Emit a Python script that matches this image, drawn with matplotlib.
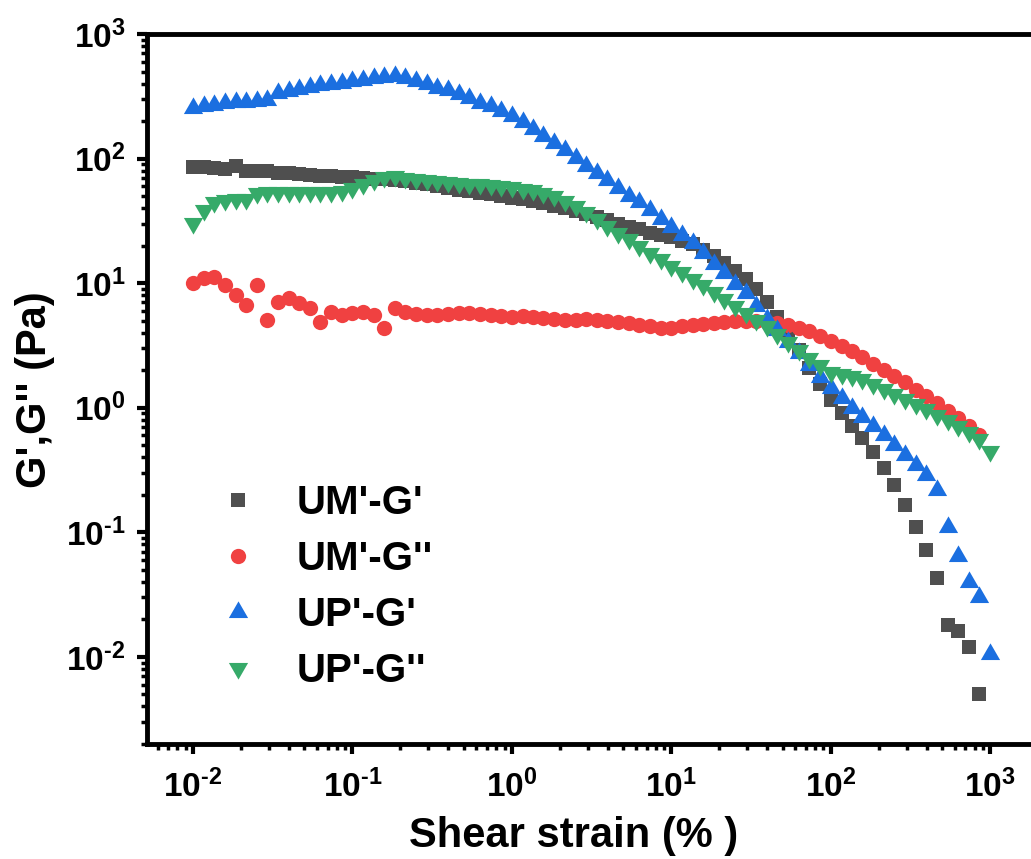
import matplotlib
matplotlib.use("Agg")
import numpy as np
import matplotlib.pyplot as plt
from matplotlib.ticker import LogLocator, NullFormatter, FuncFormatter

plt.rcParams.update({
    "font.family": "Liberation Sans",
    "font.weight": "bold",
    "mathtext.fontset": "custom",
    "mathtext.rm": "Liberation Sans:bold",
    "mathtext.bf": "Liberation Sans:bold",
    "mathtext.default": "bf",
})

# amplitude sweep, shear strain in %
strain = [0.01, 0.0117, 0.0136, 0.0158, 0.0185, 0.0215, 0.0251, 0.0293, 0.0341, 0.0398,
          0.0464, 0.0541, 0.0631, 0.0736, 0.0858, 0.1, 0.117, 0.136, 0.158, 0.185,
          0.215, 0.251, 0.293, 0.341, 0.398, 0.464, 0.541, 0.631, 0.736, 0.858,
          1.0, 1.17, 1.36, 1.58, 1.85, 2.15, 2.51, 2.93, 3.41, 3.98,
          4.64, 5.41, 6.31, 7.36, 8.58, 10.0, 11.7, 13.6, 15.8, 18.5,
          21.5, 25.1, 29.3, 34.1, 39.8, 46.4, 54.1, 63.1, 73.6, 85.8,
          100, 117, 136, 158, 185, 215, 251, 293, 341, 398,
          464, 541, 631, 736, 858, 1000]

# UM' storage modulus G' (Pa)
um_g1 = [86, 86, 84, 83, 87, 80, 79, 79, 77, 76,
         75, 74, 73, 72, 71, 70.5, 70, 69, 68, 67,
         66, 64, 62, 60, 58, 56, 54.5, 53, 51.5, 50,
         48.5, 47, 45.5, 44, 42, 40, 38, 36, 34, 32,
         30, 28.5, 27, 25.5, 24.5, 23.5, 22, 20.5, 18.5, 16.5,
         14.5, 12.5, 10.8, 9.0, 7.0, 5.4, 4.0, 2.9, 2.1, 1.55,
         1.15, 0.9, 0.72, 0.57, 0.44, 0.33, 0.24, 0.165, 0.11, 0.072,
         0.043, 0.018, 0.016, 0.012, 0.005]

# UM' loss modulus G'' (Pa)
um_g2 = [10.0, 11.0, 11.2, 9.7, 8.0, 6.7, 9.7, 5.1, 7.1, 7.6,
         6.9, 6.3, 4.9, 5.9, 5.6, 5.8, 5.9, 5.6, 4.4, 6.3,
         5.9, 5.7, 5.6, 5.6, 5.7, 5.8, 5.8, 5.7, 5.6, 5.5,
         5.4, 5.5, 5.4, 5.3, 5.2, 5.1, 5.1, 5.2, 5.1, 5.0,
         4.9, 4.8, 4.6, 4.5, 4.4, 4.4, 4.5, 4.6, 4.7, 4.8,
         4.9, 5.0, 5.0, 5.0, 4.9, 4.8, 4.6, 4.4, 4.1, 3.75,
         3.45, 3.15, 2.85, 2.55, 2.25, 2.0, 1.8, 1.6, 1.4, 1.25,
         1.1, 0.95, 0.83, 0.72, 0.6]

# UP' storage modulus G' (Pa)
up_g1 = [255, 265, 270, 278, 282, 285, 290, 298, 335, 350,
         362, 375, 388, 398, 408, 416, 428, 445, 455, 462,
         440, 420, 395, 372, 352, 330, 305, 280, 262, 241,
         220, 197, 173, 152, 134, 117, 102, 88, 77, 67,
         58, 50, 44.5, 38.5, 33, 28, 24.5, 21, 17.5, 14.3,
         12, 9.8, 8.4, 6.6, 5.2, 4.2, 3.4, 2.75, 2.2, 1.78,
         1.45, 1.2, 1.0, 0.85, 0.72, 0.6, 0.5, 0.42, 0.35, 0.29,
         0.22, 0.11, 0.065, 0.04, 0.03, 0.0105]

# UP' loss modulus G'' (Pa)
up_g2 = [30.5, 38.5, 45, 46.5, 47, 47, 53, 54, 54, 53.5,
         54, 54, 53.5, 54, 55, 58, 63, 67, 71, 72,
         70, 68, 67, 66, 65, 64, 63, 62, 61, 60,
         59, 57.5, 55.5, 53, 50, 46, 42, 37.5, 33, 29,
         25.5, 22.5, 20, 17.5, 15.5, 13.8, 12.2, 10.8, 9.6, 8.5,
         7.5, 6.6, 5.8, 5.1, 4.5, 3.9, 3.4, 2.9, 2.5, 2.2,
         1.95, 1.85, 1.8, 1.7, 1.55, 1.42, 1.3, 1.18, 1.07, 0.97,
         0.88, 0.8, 0.72, 0.64, 0.56, 0.45]


def decade_label(v, pos):
    # 10^n labels with a short hyphen for negative exponents
    e = int(round(np.log10(v)))
    if e < 0:
        return r"$10^{\text{-}%d}$" % -e
    return r"$10^{%d}$" % e


W, H = 1031, 859
fig = plt.figure(figsize=(W / 100, H / 100), dpi=100)
ax = fig.add_axes([147 / W, 115 / H, 898 / W, 710 / H])

ax.plot(strain[:len(um_g1)], um_g1, ls="none", marker="s", ms=10.5,
        color="#4f4f4f", mew=0, label="UM'-G'")
ax.plot(strain[:len(um_g2)], um_g2, ls="none", marker="o", ms=11,
        color="#f04141", mew=0, label="UM'-G''")
ax.plot(strain, up_g1, ls="none", marker=(3, 0, 0), ms=16,
        color="#1b6fe0", mew=0, label="UP'-G'")
ax.plot(strain, up_g2, ls="none", marker=(3, 0, 180), ms=16,
        color="#36aa69", mew=0, label="UP'-G''")

ax.set_xscale("log")
ax.set_yscale("log")
ax.set_xlim(5.15e-3, 2.21e3)
ax.set_ylim(2.0e-3, 1e3)

for axis in (ax.xaxis, ax.yaxis):
    axis.set_major_locator(LogLocator(base=10, numticks=20))
    axis.set_major_formatter(FuncFormatter(decade_label))
    axis.set_minor_locator(LogLocator(base=10, subs=range(2, 10), numticks=20))
    axis.set_minor_formatter(NullFormatter())

for sp in ax.spines.values():
    sp.set_linewidth(3.5)

ax.tick_params(which="major", direction="out", length=7.5, width=3, labelsize=24)
ax.tick_params(which="minor", direction="out", length=4.5, width=2.5)
ax.tick_params(axis="x", which="major", pad=11)
ax.tick_params(axis="y", which="major", pad=8)
ax.tick_params(top=False, right=False)

ax.set_xlabel("Shear strain (% )", fontsize=30, fontweight="bold", va="baseline")
ax.xaxis.set_label_coords(574 / W, 12 / H, transform=fig.transFigure)
ax.set_ylabel("G',G'' (Pa)", fontsize=30, fontweight="bold",
              va="center", ha="center")
ax.yaxis.set_label_coords(35 / W, (H - 390) / H, transform=fig.transFigure)

ax.legend(loc="upper left", bbox_to_anchor=(218 / W, (H - 484) / H),
          bbox_transform=fig.transFigure, frameon=False, borderpad=0,
          borderaxespad=0, handlelength=1.0, handletextpad=0.95,
          labelspacing=0.45, numpoints=1,
          prop={"size": 29, "weight": "bold"})

fig.savefig("out.png", dpi=100)
